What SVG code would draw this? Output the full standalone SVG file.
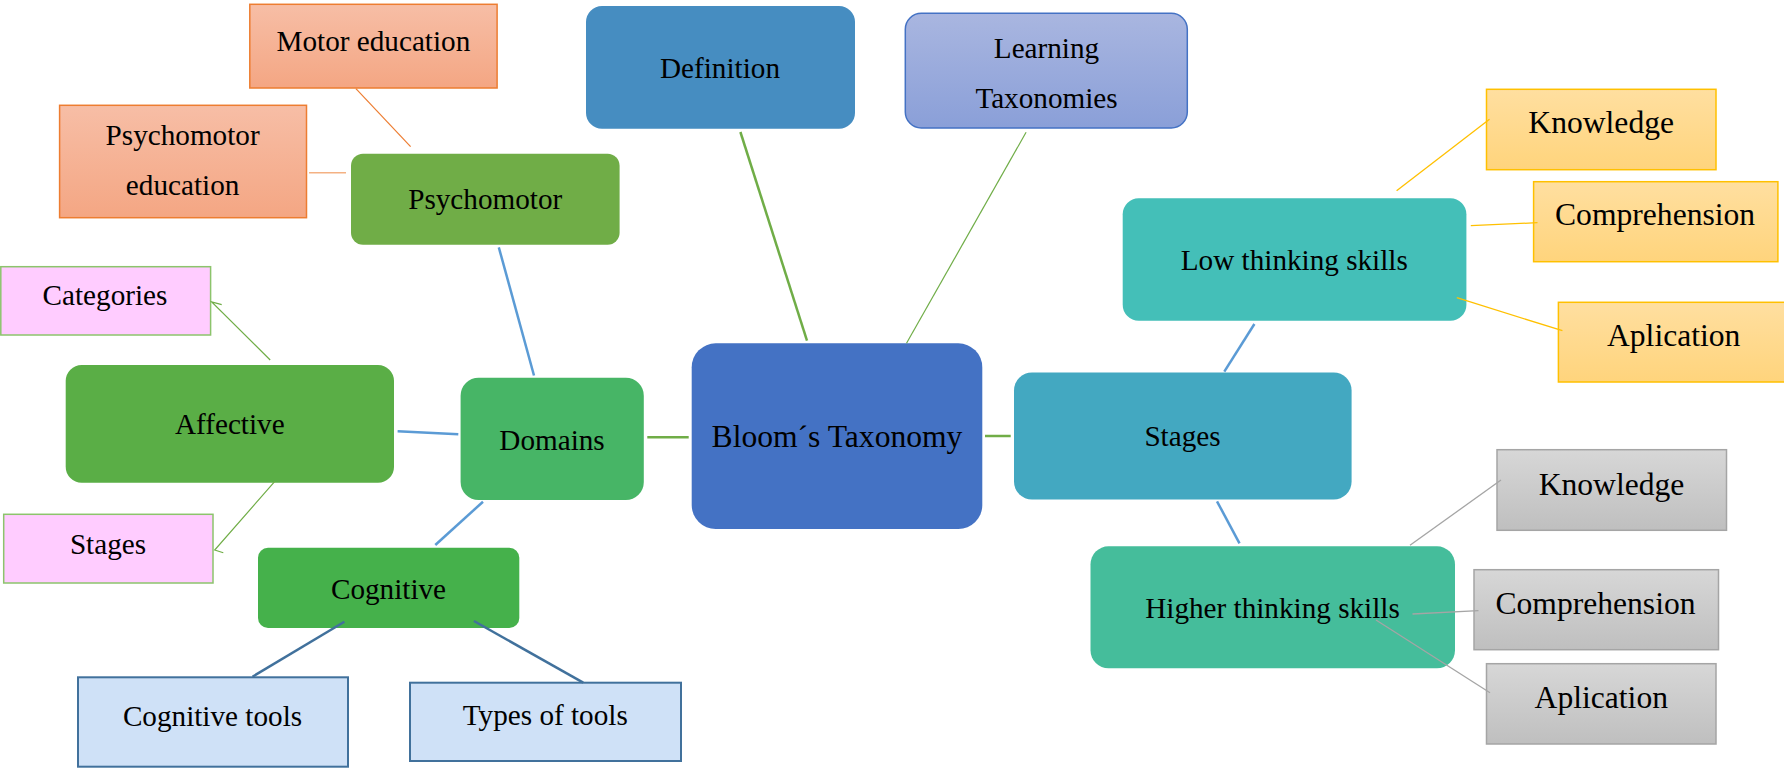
<svg xmlns="http://www.w3.org/2000/svg" width="1784" height="768" viewBox="0 0 1784 768">
<defs>
<linearGradient id="gOrange" x1="0" y1="0" x2="0" y2="1"><stop offset="0" stop-color="#f7bea6"/><stop offset="1" stop-color="#f4a683"/></linearGradient>
<linearGradient id="gYellow" x1="0" y1="0" x2="0" y2="1"><stop offset="0" stop-color="#ffdfa0"/><stop offset="1" stop-color="#ffd47c"/></linearGradient>
<linearGradient id="gGray" x1="0" y1="0" x2="0" y2="1"><stop offset="0" stop-color="#d7d7d7"/><stop offset="1" stop-color="#bfbfbf"/></linearGradient>
<linearGradient id="gLavender" x1="0" y1="0" x2="0" y2="1"><stop offset="0" stop-color="#a9b6e0"/><stop offset="1" stop-color="#8a9fd8"/></linearGradient>
</defs>
<style>
text{font-family:"Liberation Serif","Times New Roman",serif;font-size:29.2px;fill:#000;text-anchor:middle}
.big{font-size:31.6px}
.orange{fill:url(#gOrange);stroke:#ed7d31;stroke-width:1.5}
.yellow{fill:url(#gYellow);stroke:#ffc000;stroke-width:1.5}
.gray{fill:url(#gGray);stroke:#a5a5a5;stroke-width:1.5}
.pink{fill:#ffccff;stroke:#8cc46c;stroke-width:1.5}
.lblue{fill:#cfe1f7;stroke:#41719c;stroke-width:2}
.conn line,.conn polyline{fill:none}
.g2{stroke:#70ad47;stroke-width:2.5}
.g1{stroke:#70ad47;stroke-width:1.2}
.b2{stroke:#5b9bd5;stroke-width:2.5}
.d2{stroke:#41719c;stroke-width:2.5}
.o1{stroke:#ed7d31;stroke-width:1.2}
.o2{stroke:#f4b183;stroke-width:1.6}
.y1{stroke:#ffc000;stroke-width:1.3}
.k1{stroke:#a5a5a5;stroke-width:1.3}
</style>

<g id="node-bloom"><rect x="691.7" y="343.3" width="290.6" height="185.7" rx="24" fill="#4472c4"/><text class="big" x="837" y="447">Bloom´s Taxonomy</text></g>
<g id="node-definition"><rect x="586" y="6" width="269" height="122.7" rx="16" fill="#468dc1"/><text x="720" y="78">Definition</text></g>
<g id="node-learning"><rect x="905.3" y="13.3" width="282" height="114.7" rx="16" fill="url(#gLavender)" stroke="#4472c4" stroke-width="1.5"/><text x="1046.5" y="58">Learning</text><text x="1046.5" y="108">Taxonomies</text></g>
<g id="node-psychomotor"><rect x="351" y="153.7" width="268.6" height="91" rx="12" fill="#70ad47"/><text x="485.2" y="209">Psychomotor</text></g>
<g id="node-motor-education"><rect class="orange" x="249.8" y="4.3" width="247.3" height="83.7"/><text x="373.4" y="51">Motor education</text></g>
<g id="node-psychomotor-education"><rect class="orange" x="59.6" y="105.3" width="246.9" height="112.4"/><text x="182.6" y="144.5">Psychomotor</text><text x="182.6" y="194.5">education</text></g>
<g id="node-categories"><rect class="pink" x="0.8" y="266.7" width="209.8" height="68.3"/><text x="105" y="305">Categories</text></g>
<g id="node-affective"><rect x="65.7" y="365" width="328.3" height="117.7" rx="16" fill="#5aae46"/><text x="229.8" y="434">Affective</text></g>
<g id="node-domains"><rect x="460.6" y="377.7" width="183.2" height="122.3" rx="18" fill="#47b566"/><text x="552" y="449.5">Domains</text></g>
<g id="node-stages-affective"><rect class="pink" x="3.7" y="514.3" width="209.3" height="68.7"/><text x="108" y="553.5">Stages</text></g>
<g id="node-cognitive"><rect x="258" y="547.7" width="261.3" height="80.3" rx="10" fill="#45b14b"/><text x="388.5" y="598.5">Cognitive</text></g>
<g id="node-cognitive-tools"><rect class="lblue" x="78" y="677.3" width="270" height="89.4"/><text x="212.5" y="725.5">Cognitive tools</text></g>
<g id="node-types-of-tools"><rect class="lblue" x="410" y="682.7" width="271" height="78.3"/><text x="545.3" y="724.5">Types of tools</text></g>
<g id="node-stages"><rect x="1014" y="372.5" width="337.6" height="127" rx="18" fill="#43a8c1"/><text x="1182.5" y="446">Stages</text></g>
<g id="node-low-thinking"><rect x="1122.7" y="198.3" width="343.7" height="122.4" rx="16" fill="#44bfb8"/><text x="1294.3" y="270">Low thinking skills</text></g>
<g id="node-higher-thinking"><rect x="1090.5" y="546.3" width="364.5" height="122" rx="18" fill="#45bd9b"/><text x="1272.5" y="617.5">Higher thinking skills</text></g>
<g id="node-low-knowledge"><rect class="yellow" x="1486.5" y="89.3" width="229.5" height="80.4"/><text class="big" x="1601.2" y="133">Knowledge</text></g>
<g id="node-low-comprehension"><rect class="yellow" x="1533.6" y="181.7" width="244.3" height="80"/><text class="big" x="1655.1" y="225">Comprehension</text></g>
<g id="node-low-aplication"><rect class="yellow" x="1558.4" y="302.3" width="232" height="79.7"/><text class="big" x="1673.7" y="346">Aplication</text></g>
<g id="node-high-knowledge"><rect class="gray" x="1497" y="449.7" width="229.5" height="80.6"/><text class="big" x="1611.5" y="494.5">Knowledge</text></g>
<g id="node-high-comprehension"><rect class="gray" x="1474" y="569.7" width="244.5" height="80"/><text class="big" x="1595.5" y="614">Comprehension</text></g>
<g id="node-high-aplication"><rect class="gray" x="1486.5" y="663.7" width="229.5" height="80.3"/><text class="big" x="1601.3" y="708">Aplication</text></g>

<g id="connectors" class="conn">
<line class="g2" x1="740.4" y1="132" x2="807" y2="340.7"/>
<line class="g1" x1="1026.1" y1="132.3" x2="906.5" y2="343.3"/>
<line class="g2" x1="647.3" y1="437.3" x2="688.7" y2="437.3"/>
<line class="g2" x1="985" y1="436" x2="1010.7" y2="436"/>
<line class="b2" x1="498.8" y1="247.3" x2="534" y2="375.5"/>
<line class="b2" x1="397.6" y1="431.3" x2="458.3" y2="434.3"/>
<line class="b2" x1="483" y1="501.7" x2="435.3" y2="545"/>
<line class="d2" x1="344.4" y1="621.7" x2="252.5" y2="676.7"/>
<line class="d2" x1="473.9" y1="621" x2="583.2" y2="682.7"/>
<line class="o1" x1="355.9" y1="88.7" x2="410.6" y2="146.7"/>
<line class="o2" x1="309" y1="172.7" x2="346" y2="172.7"/>
<polyline class="g1" points="270.2,360 211.7,302 221.7,304.7"/>
<polyline class="g1" points="274.6,481.7 214.7,550 223.3,552.7"/>
<line class="b2" x1="1224.3" y1="371.7" x2="1254.4" y2="324"/>
<line class="b2" x1="1217" y1="501.3" x2="1239.5" y2="543.3"/>
<line class="y1" x1="1396.6" y1="190.7" x2="1489.5" y2="119.3"/>
<line class="y1" x1="1470.8" y1="225.7" x2="1537.5" y2="222.7"/>
<line class="y1" x1="1456.8" y1="297.7" x2="1562.4" y2="330.7"/>
<line class="k1" x1="1410" y1="545.3" x2="1501" y2="480"/>
<line class="k1" x1="1412.5" y1="614" x2="1478.5" y2="610.7"/>
<line class="k1" x1="1376" y1="620" x2="1490" y2="692.7"/>
</g>
</svg>
